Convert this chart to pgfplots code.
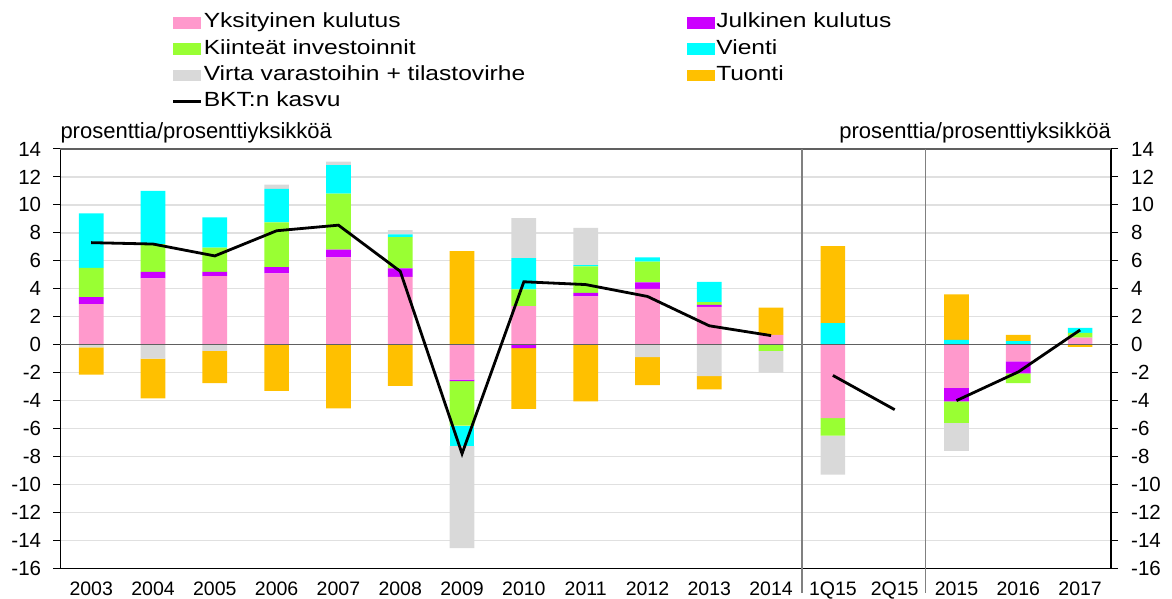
\documentclass[border=0pt]{standalone}
\usepackage{fontspec}
\setmainfont{Liberation Sans}
\newfontfamily\legfont[FakeStretch=1.2]{Liberation Sans}
\usepackage{pgfplots}
\usepackage{pgfplotstable}
\pgfplotsset{compat=1.18}
\definecolor{cpink}{HTML}{FF99CC}
\definecolor{cpurple}{HTML}{CC00FF}
\definecolor{cgreen}{HTML}{99FF33}
\definecolor{ccyan}{HTML}{00FFFF}
\definecolor{cgray}{HTML}{D9D9D9}
\definecolor{corange}{HTML}{FFC000}
\definecolor{cgrid}{HTML}{E0E0E0}
\definecolor{cframe}{HTML}{606060}

% positive parts
\pgfplotstableread{
x pink purple green cyan gray orange
0 2.9 0.5 2.1 3.9 0 0
1 4.75 0.45 2.0 3.8 0 0
2 4.9 0.3 1.75 2.15 0 0
3 5.1 0.45 3.2 2.4 0.3 0
4 6.25 0.55 4.0 2.05 0.25 0
5 4.85 0.6 2.25 0.2 0.3 0
6 0 0 0 0 0 6.7
7 2.75 0 1.2 2.25 2.85 0
8 3.45 0.25 1.9 0.1 2.65 0
9 4.0 0.45 1.5 0.3 0 0
10 2.7 0.15 0.2 1.45 0 0
11 0.7 0 0 0 0 1.95
12 0 0 0 1.55 0 5.5
13 0 0 0 0 0 0
14 0 0 0 0.35 0 3.25
15 0 0 0 0.25 0 0.45
16 0.5 0 0.35 0.35 0 0
}\posdata
% negative parts
\pgfplotstableread{
x pink purple green cyan gray orange
0 0 0 0 0 -0.2 -1.95
1 0 0 0 0 -1.0 -2.85
2 0 0 0 0 -0.45 -2.3
3 0 0 0 0 0 -3.3
4 0 0 0 0 0 -4.55
5 0 0 0 0 0 -2.95
6 -2.5 -0.1 -3.2 -1.45 -7.3 0
7 0 -0.25 0 0 0 -4.35
8 0 0 0 0 0 -4.05
9 0 0 0 0 -0.9 -2.0
10 0 0 0 0 -2.25 -0.95
11 0 0 -0.45 0 -1.55 0
12 -5.25 0 -1.25 0 -2.8 0
13 0 0 0 0 0 0
14 -3.1 -0.95 -1.55 0 -2.0 0
15 -1.2 -0.85 -0.7 0 0 0
16 0 0 0 0 0 -0.15
}\negdata
% GDP growth
\pgfplotstableread{
x y
0 7.3
1 7.2
2 6.35
3 8.15
4 8.55
5 5.25
6 -7.8
7 4.5
8 4.3
9 3.45
10 1.35
11 0.65
11.5 nan
12 -2.2
13 -4.65
13.5 nan
14 -4.0
15 -1.95
16 1.05
}\gdpdata

\pgfplotsset{
  base/.style={
    at={(60.3pt,30.7pt)}, anchor=south west, scale only axis,
    width=1050.7pt, height=419.3pt,
    xmin=-0.5, xmax=16.5, ymin=-16, ymax=14,
  },
  bars/.style={ybar stacked, bar width=24.7pt},
  sw/.style={legend image code/.code={\fill[##1] (0pt,-5.7pt) rectangle (28pt,5.7pt);}},
}

\begin{document}
\begin{tikzpicture}
\path[use as bounding box] (0pt,0pt) rectangle (1172pt,599pt);

% Axis A: positive bars, grid, left ticks, x labels, legend
\begin{axis}[base, bars,
  ytick={-16,-14,...,14},
  ymajorgrids, major grid style={draw=cgrid, line width=1.3pt},
  xtick={0,...,16},
  xticklabels={2003,2004,2005,2006,2007,2008,2009,2010,2011,2012,2013,2014,1Q15,2Q15,2015,2016,2017},
  x tick style={draw=none},
  ytick pos=left,
  y tick style={black, line width=1pt},
  tick align=outside, major tick length=7pt,
  axis line style={black, line width=1.2pt},
  /pgf/number format/assume math mode=true,
  y tick label style={font=\fontsize{20.5}{24}\selectfont, inner sep=0pt, xshift=-12pt},
  x tick label style={font=\fontsize{19.5}{23}\selectfont, inner sep=0pt, yshift=-6pt},
  legend columns=2,
  legend cell align=left,
  legend style={at={(axis description cs:0.1063,1.325)}, anchor=north west,
    draw=none, fill=none, inner sep=0pt, outer sep=0pt,
    font=\legfont\fontsize{20.5}{24}\selectfont,
    row sep=6pt,
    nodes={inner sep=0pt, text height=15.2pt, text depth=5pt},
    /tikz/every odd column/.append style={column sep=1pt},
    /tikz/every even column/.append style={column sep=162pt}},
]
\addplot[fill=cpink, draw=none, sw] table[x=x, y=pink] {\posdata};
\addlegendentry{Yksityinen kulutus}
\addplot[fill=cpurple, draw=none, sw] table[x=x, y=purple] {\posdata};
\addlegendentry{Julkinen kulutus}
\addplot[fill=cgreen, draw=none, sw] table[x=x, y=green] {\posdata};
\addlegendentry{Kiinteät investoinnit}
\addplot[fill=ccyan, draw=none, sw] table[x=x, y=cyan] {\posdata};
\addlegendentry{Vienti}
\addplot[fill=cgray, draw=none, sw] table[x=x, y=gray] {\posdata};
\addlegendentry{Virta varastoihin + tilastovirhe}
\addplot[fill=corange, draw=none, sw] table[x=x, y=orange] {\posdata};
\addlegendentry{Tuonti}
\addlegendimage{legend image code/.code={\draw[black, line width=2.8pt] (0pt,0pt) -- (28pt,0pt);}}
\addlegendentry{BKT:n kasvu}
\end{axis}

% Axis B: negative bars
\begin{axis}[base, bars, hide axis]
\addplot[fill=cpink, draw=none] table[x=x, y=pink] {\negdata};
\addplot[fill=cpurple, draw=none] table[x=x, y=purple] {\negdata};
\addplot[fill=cgreen, draw=none] table[x=x, y=green] {\negdata};
\addplot[fill=ccyan, draw=none] table[x=x, y=cyan] {\negdata};
\addplot[fill=cgray, draw=none] table[x=x, y=gray] {\negdata};
\addplot[fill=corange, draw=none] table[x=x, y=orange] {\negdata};
\end{axis}

% Axis C: line, zero line, separators, right ticks, titles
\begin{axis}[base, clip=false,
  ytick={-16,-14,...,14},
  xtick=\empty,
  ytick pos=right, yticklabel pos=right,
  y tick style={black, line width=1pt},
  tick align=outside, major tick length=7pt,
  axis line style={black, line width=1.2pt},
  /pgf/number format/assume math mode=true,
  y tick label style={font=\fontsize{20.5}{24}\selectfont, inner sep=0pt, xshift=13pt},
  unbounded coords=jump,
]
\draw[cframe, line width=1.3pt] (axis cs:-0.5,0) -- (axis cs:16.5,0);
\draw[cframe, line width=1.4pt] (axis cs:-0.5,14) -- (axis cs:16.5,14);
\draw[gray, line width=1.1pt] (axis cs:11.5,14) -- (axis cs:11.5,-16) -- ++(0pt,-25pt);
\draw[gray, line width=1.1pt] (axis cs:13.5,14) -- (axis cs:13.5,-16) -- ++(0pt,-25pt);
\addplot[black, line width=2.8pt, no marks] table[x=x, y=y] {\gdpdata};
\node[anchor=base west, inner sep=0pt, font=\fontsize{22}{24}\selectfont] at ([yshift=10.4pt]rel axis cs:0,1) {prosenttia/prosenttiyksikköä};
\node[anchor=base east, inner sep=0pt, font=\fontsize{22}{24}\selectfont] at ([yshift=10.4pt]rel axis cs:1,1) {prosenttia/prosenttiyksikköä};
\end{axis}
\end{tikzpicture}
\end{document}
